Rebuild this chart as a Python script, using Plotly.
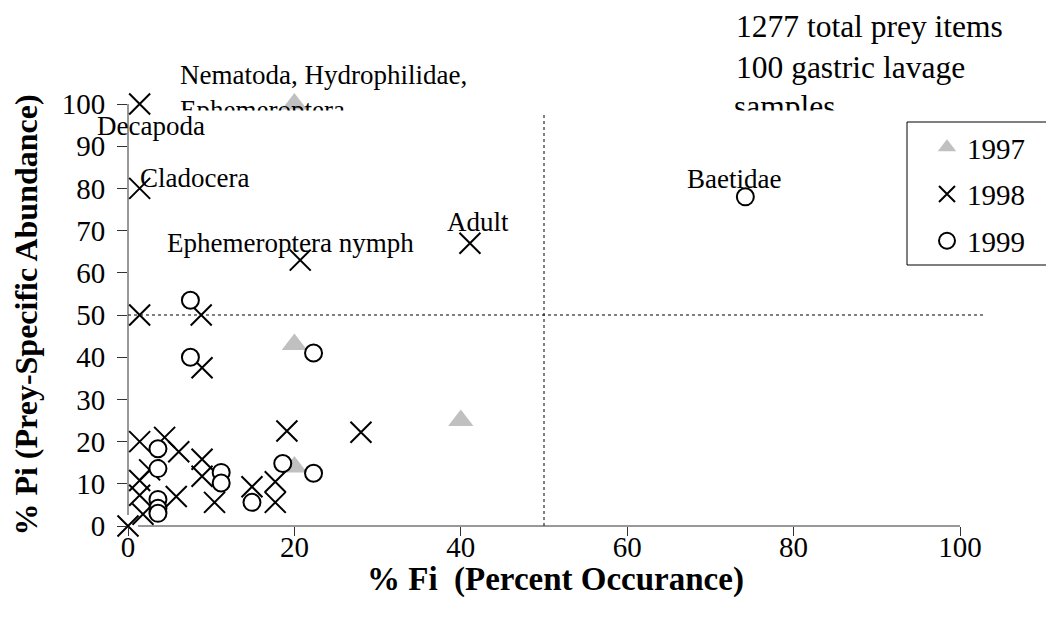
import plotly.graph_objects as go

# ---------------- data ----------------
x_1997 = [20, 20, 40, 20]
y_1997 = [100, 43, 25, 14]

x_1998 = [1.4, 1.4, 1.4, 20.7, 41.1, 8.8, 8.9, 19.1, 28.0, 1.4, 4.4, 6.1, 8.9, 8.9,
          10.4, 14.9, 17.7, 17.7, 1.4, 1.4, 2.6, 1.8, 0.0, 5.8]
y_1998 = [100, 80, 50, 63, 67, 50, 37.5, 22.5, 22.2, 20, 21, 17.6, 15.8, 11.8,
          5.6, 9.3, 10.5, 5.6, 10.8, 7.3, 13.3, 2.8, 0.0, 7.0]

x_1999 = [74.2, 7.5, 7.5, 22.3, 3.6, 3.6, 3.6, 3.6, 3.6, 11.2, 11.2, 14.9, 18.6, 22.3]
y_1999 = [78, 53.5, 40, 41, 18.3, 13.6, 6.3, 4.2, 3.0, 12.7, 10.2, 5.6, 14.8, 12.5]

x_ticks = [0, 20, 40, 60, 80, 100]
y_ticks = [0, 10, 20, 30, 40, 50, 60, 70, 80, 90, 100]
threshold = 50
axis_max = 100

labels = ["Decapoda", "Cladocera", "Ephemeroptera nymph", "Adult", "Baetidae"]
label_x = [-4.0, 1.2, 4.45, 38.1, 66.9]
label_y = [94.8, 82.5, 67.1, 72.0, 82.2]

# text boxes whose lower part is cut off in the original
clipped_labels = ["Nematoda, Hydrophilidae,<br>Ephemeroptera"]
note_lines = ["1277 total prey items", "100 gastric lavage", "samples"]

x_title = "% Fi\u00a0 (Percent Occurance)"
y_title = "% Pi (Prey-Specific Abundance)"

FONT = "Liberation Serif, Times New Roman, Times, serif"

# ---------------- layout geometry (page has an 8px body offset) ----------------
W, H = 1054, 622
OFF = 8
ML, MR, MT, MB = 120, 102, 0, 104
PW = W - ML - MR          # 832
PH = H - MT - MB          # 518
Y_DOM_TOP = 422 / PH      # main y axis occupies the lower part of the paper
CLIP = 110.5              # screen y where the clipped text boxes end


def px_to_paper(sx, sy):
    return (sx - OFF - ML) / PW, (PH - (sy - OFF - MT)) / PH


fig = go.Figure()

fig.add_trace(go.Scatter(
    x=x_1997, y=y_1997, mode="markers", name="1997", legendgroup="a",
    marker=dict(symbol="triangle-up", size=22, color="#C0C0C0", line=dict(width=0)),
    cliponaxis=False))
fig.add_trace(go.Scatter(
    x=x_1998, y=y_1998, mode="markers", name="1998", legendgroup="b",
    marker=dict(symbol="x-thin-open", size=21, color="black", line=dict(width=2, color="black")),
    cliponaxis=False))
fig.add_trace(go.Scatter(
    x=x_1999, y=y_1999, mode="markers", name="1999", legendgroup="c",
    marker=dict(symbol="circle", size=17, color="white", line=dict(width=2, color="black")),
    cliponaxis=False))

# clipped text boxes (drawn in an invisible top strip whose lower edge clips them)
fig.add_trace(go.Scatter(
    x=[180, 734], y=[95, 109.5], mode="text",
    text=[clipped_labels[0], note_lines[2]],
    textposition="middle right",
    textfont=dict(family=FONT, size=[27, 31.5], color="black"),
    xaxis="x2", yaxis="y2", showlegend=False, cliponaxis=True, hoverinfo="skip"))

# legend frame (runs off the right edge in the original)
lx0, ly1 = px_to_paper(907, 122)
_, ly0 = px_to_paper(907, 265)
fig.add_shape(type="rect", xref="paper", yref="paper", layer="below",
              x0=lx0, x1=1.2, y0=ly0, y1=ly1,
              line=dict(color="black", width=1), fillcolor="white")

# reference dotted lines (in axis-domain fractions so they can extend past the range)
fig.add_shape(type="line", xref="x domain", yref="y domain",
              x0=0, x1=1.0276, y0=threshold / axis_max, y1=threshold / axis_max,
              line=dict(color="black", width=1, dash="dot"))
fig.add_shape(type="line", xref="x domain", yref="y domain",
              x0=threshold / axis_max, x1=threshold / axis_max, y0=0, y1=0.9787,
              line=dict(color="black", width=1, dash="dot"))
# axis lines
fig.add_shape(type="line", xref="x domain", yref="y domain",
              x0=0, x1=0, y0=0.026, y1=1, line=dict(color="#333333", width=1))
fig.add_shape(type="line", xref="x domain", yref="y domain",
              x0=0.012, x1=1, y0=0, y1=0, line=dict(color="#333333", width=1))

for t, lx, ly in zip(labels, label_x, label_y):
    fig.add_annotation(x=lx / axis_max, y=ly / axis_max * Y_DOM_TOP,
                       xref="paper", yref="paper", text=t, showarrow=False,
                       xanchor="left", yanchor="middle",
                       font=dict(family=FONT, size=27, color="black"))

nx, ny = px_to_paper(734, 47)
fig.add_annotation(x=nx, y=ny, xref="paper", yref="paper",
                   text="<br>".join(note_lines[:2]), showarrow=False,
                   xanchor="left", yanchor="middle", align="left",
                   font=dict(family=FONT, size=31.5, color="black"))

# x axis title (placed as text so it can sit as close to the tick labels as the original)
tx, ty = px_to_paper(555, 579)
fig.add_annotation(x=tx, y=ty, xref="paper", yref="paper", text="<b>" + x_title + "</b>",
                   showarrow=False, xanchor="center", yanchor="middle",
                   font=dict(family=FONT, size=33, color="black"))

fig.update_layout(
    template="none",
    width=W, height=H,
    margin=dict(l=ML, r=MR, t=MT, b=MB, autoexpand=False),
    paper_bgcolor="white", plot_bgcolor="rgba(0,0,0,0)",
    font=dict(family=FONT, color="black"),
    showlegend=True,
    legend=dict(x=lx0, y=ly1, xanchor="left", yanchor="top",
                bgcolor="rgba(0,0,0,0)", borderwidth=0,
                font=dict(family=FONT, size=29, color="black"),
                tracegroupgap=6, indentation=20),
    xaxis=dict(domain=[0, 1], range=[0, axis_max], tickvals=x_ticks,
               ticks="outside", ticklen=9, tickcolor="#333333", automargin=False,
               showline=False, showgrid=False, zeroline=False,
               ticklabelstandoff=-14,
               tickfont=dict(family=FONT, size=29, color="black")),
    yaxis=dict(domain=[0, Y_DOM_TOP], range=[0, axis_max], tickvals=y_ticks,
               ticks="outside", ticklen=10, tickcolor="#333333", automargin=False,
               showline=False, showgrid=False, zeroline=False,
               ticklabelstandoff=6,
               tickfont=dict(family=FONT, size=29, color="black"),
               title=dict(text="<b>" + y_title + "</b>", standoff=17,
                          font=dict(family=FONT, size=32, color="black"))),
    xaxis2=dict(domain=[0, 1], range=[OFF + ML, OFF + ML + PW], visible=False, anchor="y2"),
    yaxis2=dict(domain=[px_to_paper(0, CLIP)[1], 1], range=[CLIP, OFF + MT],
                visible=False, anchor="x2"),
)

fig.write_html("out.html")
